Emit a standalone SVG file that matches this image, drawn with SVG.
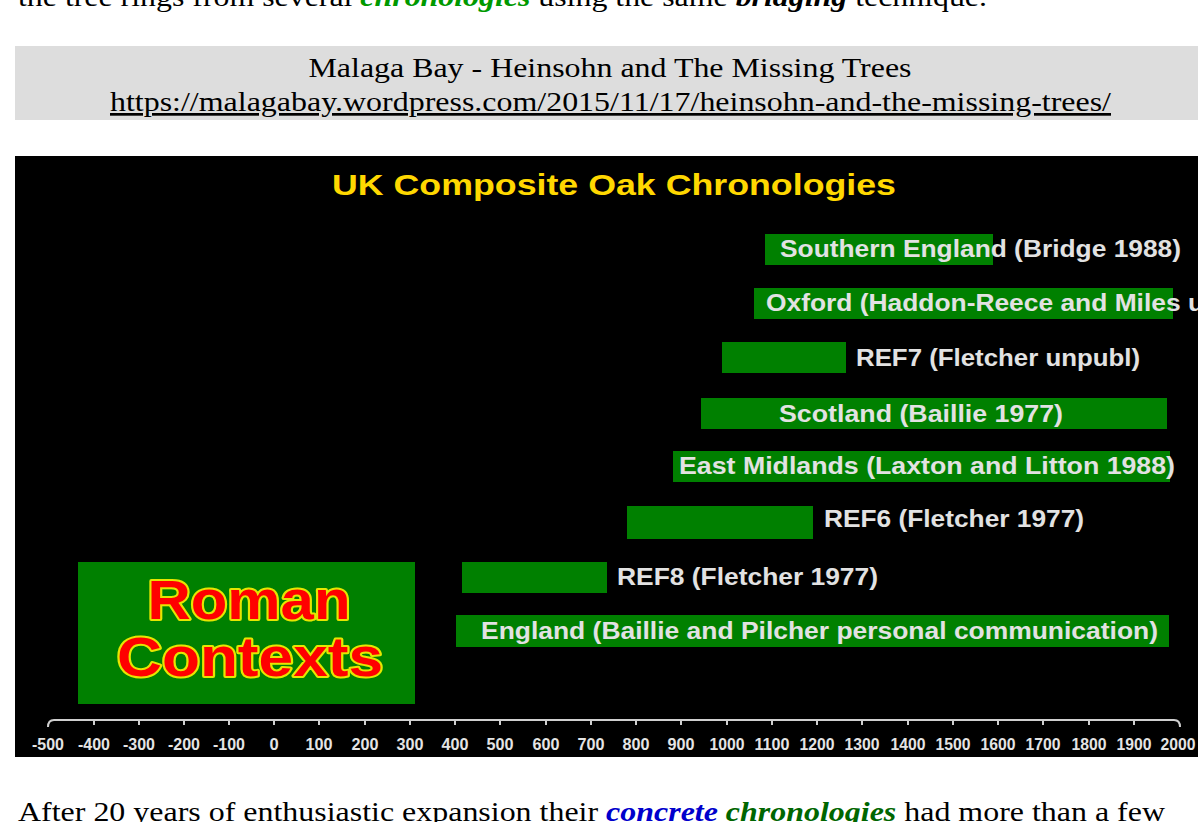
<svg xmlns="http://www.w3.org/2000/svg" width="1198" height="822" viewBox="0 0 1198 822">
<style>
.serif{font-family:"Liberation Serif","Times New Roman",serif;font-size:27px;fill:#000}
.bar{fill:#008000}
.lbl{font-family:"Liberation Sans",Arial,sans-serif;font-weight:bold;font-size:23px;fill:#e2e2e2}
.tick{font-family:"Liberation Sans",Arial,sans-serif;font-weight:bold;font-size:16.5px;fill:#e4e4e4;text-anchor:middle}
.roman{font-family:"Liberation Sans",Arial,sans-serif;font-weight:bold;font-size:56px;fill:#ff0000;stroke:#e6e600;stroke-width:4;stroke-linejoin:round;paint-order:stroke;text-anchor:middle}
</style>
<rect x="0" y="0" width="1198" height="822" fill="#ffffff"/>
<g id="top-text">
<text class="serif" x="18" y="6" font-size="31" textLength="969" lengthAdjust="spacingAndGlyphs">the tree rings from several <tspan fill="#009900" font-weight="bold" font-style="italic">chronologies</tspan> using the same <tspan font-weight="bold" font-style="italic">bridging</tspan> technique.</text>
</g>
<g id="caption">
<rect x="15" y="46" width="1183" height="74" fill="#dddddd"/>
<text class="serif" x="610" y="77" text-anchor="middle" textLength="603" lengthAdjust="spacingAndGlyphs" font-size="30">Malaga Bay - Heinsohn and The Missing Trees</text>
<text class="serif" x="110" y="111" textLength="1001" lengthAdjust="spacingAndGlyphs" font-size="30" fill="#1c1ca8" text-decoration="underline">https://malagabay.wordpress.com/2015/11/17/heinsohn-and-the-missing-trees/</text>
</g>
<g id="chart">
<rect x="15" y="156" width="1183" height="601" fill="#000000"/>
<text x="332" y="195" font-family="'Liberation Sans',Arial,sans-serif" font-weight="bold" font-size="30" fill="#ffd800" textLength="564" lengthAdjust="spacingAndGlyphs">UK Composite Oak Chronologies</text>
</g>
<g id="roman-contexts">
<rect x="78" y="562" width="337" height="142" class="bar"/>
<text class="roman" x="249" y="619" textLength="203" lengthAdjust="spacingAndGlyphs">Roman</text>
<text class="roman" x="250" y="676" textLength="266" lengthAdjust="spacingAndGlyphs">Contexts</text>
</g>
<g id="southern-england">
<rect class="bar" x="765" y="234" width="228" height="31"/>
<text class="lbl" x="780" y="257" textLength="401" lengthAdjust="spacingAndGlyphs">Southern England (Bridge 1988)</text>
</g>
<g id="oxford">
<rect class="bar" x="754" y="288" width="419" height="31"/>
<text class="lbl" x="766" y="311" textLength="438" lengthAdjust="spacingAndGlyphs">Oxford (Haddon-Reece and Miles u</text>
</g>
<g id="ref7">
<rect class="bar" x="722" y="342" width="124" height="31"/>
<text class="lbl" x="856" y="366" textLength="284" lengthAdjust="spacingAndGlyphs">REF7 (Fletcher unpubl)</text>
</g>
<g id="scotland">
<rect class="bar" x="701" y="398" width="466" height="31"/>
<text class="lbl" x="779" y="422" textLength="284" lengthAdjust="spacingAndGlyphs">Scotland (Baillie 1977)</text>
</g>
<g id="east-midlands">
<rect class="bar" x="673" y="451" width="497" height="31"/>
<text class="lbl" x="679" y="474" textLength="496" lengthAdjust="spacingAndGlyphs">East Midlands (Laxton and Litton 1988)</text>
</g>
<g id="ref6">
<rect class="bar" x="627" y="506" width="186" height="33"/>
<text class="lbl" x="824" y="527" textLength="260" lengthAdjust="spacingAndGlyphs">REF6 (Fletcher 1977)</text>
</g>
<g id="ref8">
<rect class="bar" x="462" y="562" width="145" height="31"/>
<text class="lbl" x="617" y="585" textLength="261" lengthAdjust="spacingAndGlyphs">REF8 (Fletcher 1977)</text>
</g>
<g id="england">
<rect class="bar" x="456" y="615" width="713" height="32"/>
<text class="lbl" x="481" y="639" textLength="677" lengthAdjust="spacingAndGlyphs">England (Baillie and Pilcher personal communication)</text>
</g>
<g id="axis" stroke="#cfcfcf" stroke-width="2" fill="none">
<path d="M48 727 Q48 720 54 720 L1174 720 Q1180 720 1180 727"/>
<path d="M94 720v5M139 720v5M184 720v5M229 720v5M274 720v5M319 720v5M365 720v5M410 720v5M455 720v5M500 720v5M546 720v5M591 720v5M636 720v5M681 720v5M727 720v5M772 720v5M817 720v5M862 720v5M908 720v5M953 720v5M998 720v5M1043 720v5M1089 720v5M1134 720v5"/>
</g>
<g id="axis-labels">
<text class="tick" x="48" y="750" textLength="32" lengthAdjust="spacingAndGlyphs">-500</text>
<text class="tick" x="94" y="750" textLength="32" lengthAdjust="spacingAndGlyphs">-400</text>
<text class="tick" x="139" y="750" textLength="32" lengthAdjust="spacingAndGlyphs">-300</text>
<text class="tick" x="184" y="750" textLength="32" lengthAdjust="spacingAndGlyphs">-200</text>
<text class="tick" x="229" y="750" textLength="32" lengthAdjust="spacingAndGlyphs">-100</text>
<text class="tick" x="274" y="750">0</text>
<text class="tick" x="319" y="750" textLength="27" lengthAdjust="spacingAndGlyphs">100</text>
<text class="tick" x="365" y="750" textLength="27" lengthAdjust="spacingAndGlyphs">200</text>
<text class="tick" x="410" y="750" textLength="27" lengthAdjust="spacingAndGlyphs">300</text>
<text class="tick" x="455" y="750" textLength="27" lengthAdjust="spacingAndGlyphs">400</text>
<text class="tick" x="500" y="750" textLength="27" lengthAdjust="spacingAndGlyphs">500</text>
<text class="tick" x="546" y="750" textLength="27" lengthAdjust="spacingAndGlyphs">600</text>
<text class="tick" x="591" y="750" textLength="27" lengthAdjust="spacingAndGlyphs">700</text>
<text class="tick" x="636" y="750" textLength="27" lengthAdjust="spacingAndGlyphs">800</text>
<text class="tick" x="681" y="750" textLength="27" lengthAdjust="spacingAndGlyphs">900</text>
<text class="tick" x="727" y="750" textLength="35" lengthAdjust="spacingAndGlyphs">1000</text>
<text class="tick" x="772" y="750" textLength="35" lengthAdjust="spacingAndGlyphs">1100</text>
<text class="tick" x="817" y="750" textLength="35" lengthAdjust="spacingAndGlyphs">1200</text>
<text class="tick" x="862" y="750" textLength="35" lengthAdjust="spacingAndGlyphs">1300</text>
<text class="tick" x="908" y="750" textLength="35" lengthAdjust="spacingAndGlyphs">1400</text>
<text class="tick" x="953" y="750" textLength="35" lengthAdjust="spacingAndGlyphs">1500</text>
<text class="tick" x="998" y="750" textLength="35" lengthAdjust="spacingAndGlyphs">1600</text>
<text class="tick" x="1043" y="750" textLength="35" lengthAdjust="spacingAndGlyphs">1700</text>
<text class="tick" x="1089" y="750" textLength="35" lengthAdjust="spacingAndGlyphs">1800</text>
<text class="tick" x="1134" y="750" textLength="35" lengthAdjust="spacingAndGlyphs">1900</text>
<text class="tick" x="1178" y="750" textLength="35" lengthAdjust="spacingAndGlyphs">2000</text>
</g>
<g id="connectors"/>
<g id="bottom-text">
<text class="serif" x="18" y="821" font-size="29" textLength="1147" lengthAdjust="spacingAndGlyphs">After 20 years of enthusiastic expansion their <tspan fill="#0000cc" font-weight="bold" font-style="italic" text-decoration="underline">concrete</tspan> <tspan fill="#006600" font-weight="bold" font-style="italic" text-decoration="underline">chronologies</tspan> had more than a few</text>
</g>
</svg>
